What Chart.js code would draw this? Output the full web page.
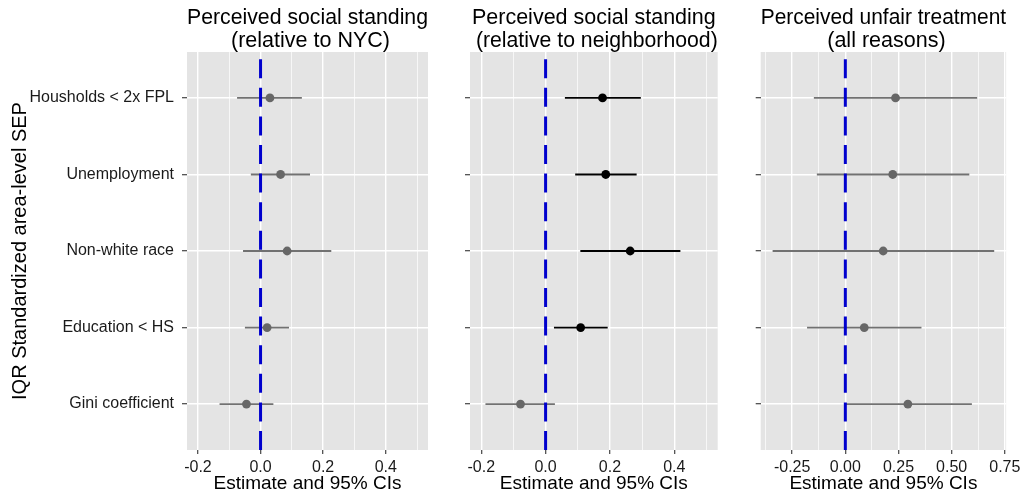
<!DOCTYPE html>
<html>
<head>
<meta charset="utf-8">
<script src="https://cdn.jsdelivr.net/npm/chart.js@4"></script>
<style>
html,body{margin:0;padding:0;background:#fff;}
#wrap{position:relative;width:1024px;height:495px;overflow:hidden;background:#fff;}
#wrap canvas{position:absolute;top:0;}
</style>
</head>
<body>
<div id="wrap">
  <canvas id="p1" width="440" height="495" style="left:0px"></canvas>
  <canvas id="p2" width="300" height="495" style="left:440px"></canvas>
  <canvas id="p3" width="284" height="495" style="left:740px"></canvas>
</div>
<script>
// ---------- data ----------
const categories = ["Housholds < 2x FPL", "Unemployment", "Non-white race", "Education < HS", "Gini coefficient"];

const panelTitles = [
  ["Perceived social standing", " (relative to NYC)"],
  ["Perceived social standing", " (relative to neighborhood)"],
  ["Perceived unfair treatment", " (all reasons)"]
];
const yAxisTitle = "IQR Standardized area-level SEP";
const xAxisTitle = "Estimate and 95% CIs";

// Panel 1: relative to NYC
const nycEst = [0.030, 0.064, 0.085, 0.021, -0.045];
const nycLo  = [-0.075, -0.031, -0.056, -0.050, -0.131];
const nycHi  = [0.132, 0.158, 0.226, 0.091, 0.041];

// Panel 2: relative to neighborhood
const nbhdEst = [0.177, 0.187, 0.263, 0.109, -0.078];
const nbhdLo  = [0.060, 0.092, 0.108, 0.026, -0.187];
const nbhdHi  = [0.296, 0.283, 0.419, 0.193, 0.029];

// Panel 3: unfair treatment
const unfairEst = [0.236, 0.223, 0.178, 0.089, 0.294];
const unfairLo  = [-0.148, -0.134, -0.342, -0.180, 0.000];
const unfairHi  = [0.620, 0.583, 0.700, 0.358, 0.595];

// x tick values (major + minor grid) and major tick labels
const xGrid12 = [-0.2, -0.1, 0.0, 0.1, 0.2, 0.3, 0.4, 0.5];
const xMajor12 = [-0.2, 0.0, 0.2, 0.4];
const xLabels12 = ["-0.2", "0.0", "0.2", "0.4"];
const xGrid3 = [-0.375, -0.25, -0.125, 0.0, 0.125, 0.25, 0.375, 0.5, 0.625, 0.75];
const xMajor3 = [-0.25, 0.0, 0.25, 0.5, 0.75];
const xLabels3 = ["-0.25", "0.00", "0.25", "0.50", "0.75"];

const xRange12 = [-0.235, 0.535];
const xRange3 = [-0.398, 0.756];
const refValue = 0;

// ---------- rendering ----------
Chart.defaults.font.family = "'Liberation Sans', Arial, sans-serif";
Chart.defaults.color = '#1a1a1a';

const Y_MIN = -0.6, Y_MAX = categories.length - 1 + 0.6;

const panelBg = {
  id: 'panelBg',
  beforeDraw(chart) {
    const {ctx, chartArea: a} = chart;
    ctx.save();
    ctx.fillStyle = '#e4e4e4';
    ctx.fillRect(a.left, a.top, a.right - a.left, a.bottom - a.top);
    ctx.restore();
  }
};

function idxOf(arr, v) {
  for (let i = 0; i < arr.length; i++) if (Math.abs(arr[i] - v) < 1e-9) return i;
  return -1;
}

function makePanel(id, cfg) {
  const {est, lo, hi, title, xRange, xGrid, xMajor, xLabels, showYLabels, yAxisWidth, padRight} = cfg;
  const sig = est.map((_, i) => lo[i] > 0 || hi[i] < 0);
  const datasets = [];
  datasets.push({
    data: [{x: refValue, y: Y_MAX}, {x: refValue, y: Y_MIN}],
    showLine: true, borderColor: '#0000cd', borderWidth: 3, borderDash: [19, 9.6],
    pointRadius: 0, order: 0
  });
  datasets.push({
    data: est.map((v, i) => ({x: v, y: i})),
    showLine: false, pointRadius: 4.4,
    backgroundColor: sig.map(s => s ? '#000000' : '#676767'),
    borderColor: sig.map(s => s ? '#000000' : '#676767'),
    pointBorderWidth: 0, order: 1
  });
  est.forEach((v, i) => {
    datasets.push({
      data: [{x: lo[i], y: i}, {x: hi[i], y: i}],
      showLine: true, borderColor: sig[i] ? '#000000' : '#717171', borderWidth: 1.8,
      pointRadius: 0, order: 2
    });
  });

  new Chart(document.getElementById(id), {
    type: 'scatter',
    data: {datasets},
    plugins: [panelBg],
    options: {
      responsive: false, animation: false, devicePixelRatio: 1,
      events: [],
      layout: {padding: {left: 0, right: padRight, top: 0, bottom: 0}},
      plugins: {
        legend: {display: false},
        tooltip: {enabled: false},
        title: {
          display: true, text: title, fullSize: false, color: '#000',
          font: {size: 21.5, weight: 'normal', lineHeight: 1.04},
          padding: {top: 7.3, bottom: 0}
        }
      },
      scales: {
        x: {
          type: 'linear', min: xRange[0], max: xRange[1], bounds: 'data',
          afterBuildTicks: s => { s.ticks = xGrid.map(v => ({value: v})); },
          afterFit: s => { s.height = 45; },
          border: {display: false},
          grid: {
            color: '#ffffff',
            lineWidth: ctx => idxOf(xMajor, ctx.tick.value) >= 0 ? 1.4 : 0.7,
            tickLength: 4,
            tickWidth: 1.2,
            tickColor: ctx => idxOf(xMajor, ctx.tick.value) >= 0 ? '#444444' : 'rgba(0,0,0,0)'
          },
          ticks: {
            autoSkip: false, maxRotation: 0, padding: 3.5,
            font: {size: 16}, color: '#1a1a1a',
            callback: v => { const k = idxOf(xMajor, v); return k >= 0 ? xLabels[k] : ''; }
          },
          title: {display: true, text: xAxisTitle, color: '#000', font: {size: 19}, padding: {top: 0, bottom: 0.3}}
        },
        y: {
          type: 'linear', min: Y_MIN, max: Y_MAX, reverse: true, bounds: 'data',
          afterBuildTicks: s => { s.ticks = categories.map((_, i) => ({value: i})); },
          afterFit: s => { s.width = yAxisWidth; },
          border: {display: false},
          grid: {color: '#ffffff', lineWidth: 1.4, tickLength: 5, tickWidth: 1.2, tickColor: '#444444'},
          ticks: {
            autoSkip: false, padding: 8, font: {size: 16}, color: '#1a1a1a',
            callback: v => showYLabels ? categories[v] : ''
          },
          title: showYLabels
            ? {display: true, text: yAxisTitle, color: '#000', font: {size: 20}, padding: {top: 8.5, bottom: 0}}
            : {display: false}
        }
      }
    }
  });
}

makePanel('p1', {est: nycEst, lo: nycLo, hi: nycHi, title: panelTitles[0], xRange: xRange12,
  xGrid: xGrid12, xMajor: xMajor12, xLabels: xLabels12, showYLabels: true, yAxisWidth: 187, padRight: 12});
makePanel('p2', {est: nbhdEst, lo: nbhdLo, hi: nbhdHi, title: panelTitles[1], xRange: xRange12,
  xGrid: xGrid12, xMajor: xMajor12, xLabels: xLabels12, showYLabels: false, yAxisWidth: 30, padRight: 22.3});
makePanel('p3', {est: unfairEst, lo: unfairLo, hi: unfairHi, title: panelTitles[2], xRange: xRange3,
  xGrid: xGrid3, xMajor: xMajor3, xLabels: xLabels3, showYLabels: false, yAxisWidth: 20.7, padRight: 17});
</script>
</body>
</html>
